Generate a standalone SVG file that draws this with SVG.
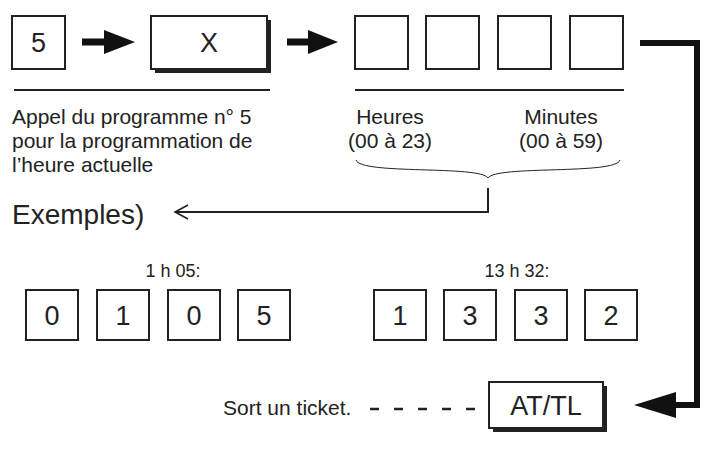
<svg xmlns="http://www.w3.org/2000/svg" width="710" height="449" viewBox="0 0 710 449">
<style>
text{font-family:"Liberation Sans",Arial,sans-serif;fill:#222}
.b{fill:#fff;stroke:#222;stroke-width:2}
.sh{fill:#222}
.k{font-size:27px;text-anchor:middle}
.t{font-size:21px}
.c{text-anchor:middle}
</style>
<defs>
<marker id="open" markerWidth="16" markerHeight="16" refX="14" refY="8" orient="auto" markerUnits="userSpaceOnUse"><path d="M1,1 L14,8 L1,15" fill="none" stroke="#222" stroke-width="1.6"/></marker>
</defs>
<rect width="710" height="449" fill="#fff"/>
<g id="connectors">
<path d="M82,42 H108" stroke="#111" stroke-width="7"/><path d="M104,30 L135,42 L104,54 Z" fill="#111"/>
<path d="M287,42 H312" stroke="#111" stroke-width="7"/><path d="M308,30 L338,42 L308,54 Z" fill="#111"/>
<path d="M640,43 H697 V405 H672" fill="none" stroke="#111" stroke-width="6"/><path d="M676,392 L634,405 L676,418 Z" fill="#111"/>
<path d="M488,188 V212 H175" fill="none" stroke="#222" stroke-width="2" marker-end="url(#open)"/>
<path d="M370,409 H478" stroke="#222" stroke-width="2.5" stroke-dasharray="9,15"/>
<path d="M14,90 H270 M355,90 H624" stroke="#222" stroke-width="2"/>
<path d="M356,160 C360,175 480,165 488,178 C496,165 616,175 620,160" fill="none" stroke="#222" stroke-width="1"/>
</g>
<g id="n5"><rect class="b" x="12" y="16" width="53" height="53"/><text class="k" x="38.5" y="52">5</text></g>
<g id="nX"><rect class="sh" x="155" y="20" width="116" height="53"/><rect class="b" x="151" y="16" width="116" height="53"/><text class="k" x="209" y="52">X</text></g>
<g id="digits">
<rect class="b" x="355" y="16" width="53" height="53"/><rect class="b" x="426" y="16" width="53" height="53"/><rect class="b" x="498" y="16" width="53" height="53"/><rect class="b" x="570" y="16" width="53" height="53"/>
</g>
<g id="labels">
<text class="t" x="12" y="124">Appel du programme n° 5</text>
<text class="t" x="12" y="148">pour la programmation de</text>
<text class="t" x="12" y="172">l’heure actuelle</text>
<text class="t c" x="390" y="124">Heures</text><text class="t c" x="390" y="148">(00 à 23)</text>
<text class="t c" x="561" y="124">Minutes</text><text class="t c" x="561" y="148">(00 à 59)</text>
<text x="12" y="224" font-size="28">Exemples)</text>
</g>
<g id="ex1">
<text class="c" x="173" y="277" font-size="18">1 h 05:</text>
<rect class="b" x="26" y="290" width="52" height="50"/><text class="k" x="52" y="325">0</text>
<rect class="b" x="97" y="290" width="52" height="50"/><text class="k" x="123" y="325">1</text>
<rect class="b" x="168" y="290" width="52" height="50"/><text class="k" x="194" y="325">0</text>
<rect class="b" x="238" y="290" width="52" height="50"/><text class="k" x="264" y="325">5</text>
</g>
<g id="ex2">
<text class="c" x="517" y="277" font-size="18">13 h 32:</text>
<rect class="b" x="374" y="290" width="52" height="50"/><text class="k" x="400" y="325">1</text>
<rect class="b" x="444" y="290" width="52" height="50"/><text class="k" x="470" y="325">3</text>
<rect class="b" x="515" y="290" width="52" height="50"/><text class="k" x="541" y="325">3</text>
<rect class="b" x="585" y="290" width="52" height="50"/><text class="k" x="611" y="325">2</text>
</g>
<g id="atl"><rect class="sh" x="493" y="386" width="114" height="46"/><rect class="b" x="489" y="382" width="114" height="46"/><text class="k" x="546" y="415">AT/TL</text></g>
<text x="223" y="415" font-size="21">Sort un ticket.</text>
</svg>
